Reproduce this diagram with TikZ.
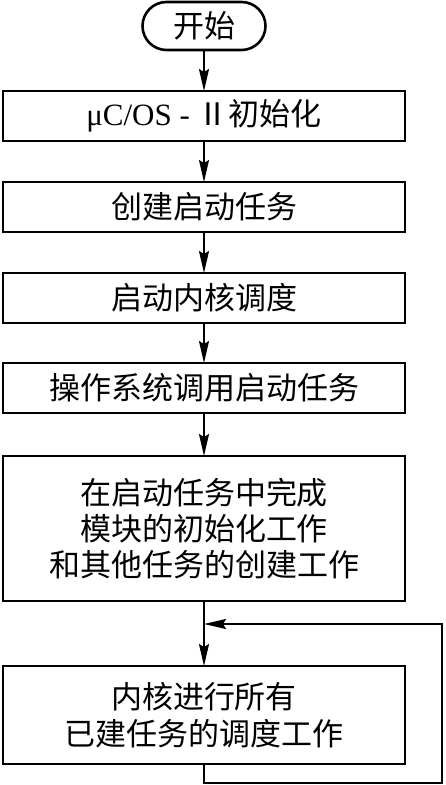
\documentclass[tikz,border=0pt]{standalone}
\usepackage{fontspec}
\setmainfont{Liberation Serif}
\newfontfamily\cjk{Noto Sans CJK SC}
\usetikzlibrary{positioning,shapes.misc,arrows.meta}

\begin{document}
\begin{tikzpicture}[x=1pt, y=1pt, outer sep=0pt,
    stepbox/.style={draw, line width=2.6pt, minimum width=402pt, minimum height=50pt, inner sep=0pt, align=center, font=\cjk\fontsize{31}{36}\selectfont},
    flow/.style={-{Stealth[length=22pt, width=10pt, inset=3pt]}, line width=1.8pt},
    back/.style={-{Stealth[length=22pt, width=10pt, inset=3pt]}, line width=1.5pt}]
        \useasboundingbox (0,0) rectangle (445,-785);

        \node[draw, rounded rectangle, line width=2.6pt, minimum width=123pt, minimum height=48pt, inner sep=0pt, font=\cjk\fontsize{31}{36}\selectfont] (start) at (204,-26) {开始};
        \node[stepbox, below=41pt of start] (init) {{\rmfamily μC/OS - }Ⅱ初始化};
        \node[stepbox, below=41pt of init] (create) {创建启动任务};
        \node[stepbox, below=41pt of create] (kernel) {启动内核调度};
        \node[stepbox, below=40pt of kernel] (call) {操作系统调用启动任务};
        \node[stepbox, minimum height=145pt, below=43pt of call] (task) {在启动任务中完成\\模块的初始化工作\\和其他任务的创建工作};
        \node[stepbox, minimum height=98pt, below=65pt of task, font=\cjk\fontsize{31}{37}\selectfont] (sched) {内核进行所有\\已建任务的调度工作};

        \coordinate (join) at ([yshift=-23pt]task.south);

        \draw[flow] (start) -- (init);
        \draw[flow] (init) -- (create);
        \draw[flow] (create) -- (kernel);
        \draw[flow] (kernel) -- (call);
        \draw[flow] (call) -- (task);
        \draw[flow] (task) -- (sched);
        \draw[back] (sched.south) -- ++(0,-19) -- ++(238,0) |- (join);
    \end{tikzpicture}
\end{document}
